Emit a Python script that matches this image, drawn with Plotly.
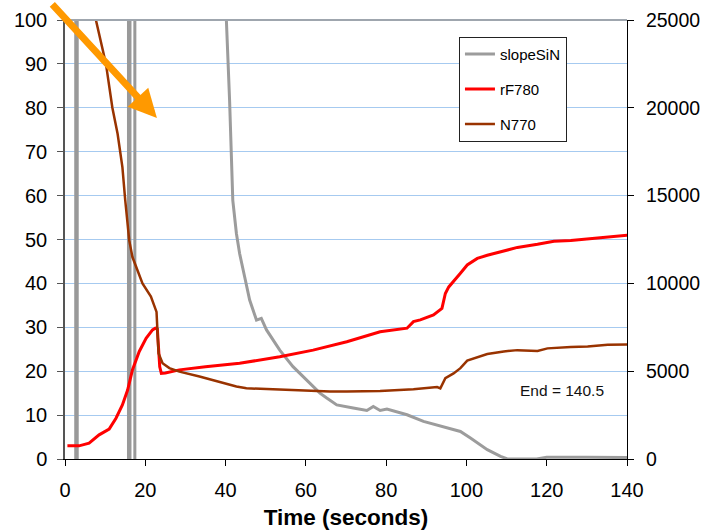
import plotly.graph_objects as go

# ---- data ----
marker_times = [2.86, 16.0, 17.4]

t_slope = [39.9, 40.2, 41.0, 41.4, 41.8, 42.7, 43.5, 44.75, 46.0, 47.7, 48.9, 50.2, 51.8,
           53.5, 56.8, 60.2, 63.5, 65.2, 67.7, 71.8, 75.2, 76.8, 78.5, 80.2, 85.2, 89.3,
           93.5, 98.5, 101.0, 105.2, 108.5, 110.2, 117.5, 120.0, 130.0, 140.2]
slopeSiN = [28000, 25000, 20420, 17570, 14730, 12840, 11700, 10380, 9050, 7910, 8010, 7350, 6780,
            6200, 5260, 4510, 3750, 3470, 3080, 2900, 2760, 2990, 2760, 2840, 2520, 2140,
            1900, 1570, 1190, 530, 150, 0, 0, 100, 100, 80]

t_rf = [0.6, 3.5, 6.0, 8.5, 11.0, 12.7, 14.3, 15.6, 16.8, 18.5, 20.2, 21.8, 22.5, 23.0, 23.6,
        24.0, 25.0, 28.5, 35.0, 43.5, 53.5, 61.8, 70.2, 78.5, 85.2, 86.8, 88.5, 91.8, 93.9,
        94.75, 95.6, 96.8, 98.5, 100.2, 102.7, 105.2, 109.3, 112.7, 117.7, 121.8, 126.0,
        130.2, 135.2, 140.2]
rF780 = [3.0, 3.0, 3.6, 5.5, 6.8, 9.3, 12.3, 15.7, 20.3, 24.5, 27.5, 29.4, 29.8, 29.6, 21.0,
         19.5, 19.6, 20.3, 21.0, 21.8, 23.3, 24.8, 26.7, 29.0, 29.8, 31.3, 31.7, 32.8, 34.3,
         37.7, 39.2, 40.4, 42.3, 44.2, 45.7, 46.4, 47.4, 48.2, 48.9, 49.6, 49.8,
         50.2, 50.6, 51.0]

t_n = [6.0, 7.7, 10.2, 11.8, 13.1, 14.3, 15.0, 16.0, 16.8, 17.7, 19.3, 21.4, 22.8, 23.3, 24.3,
       26.0, 28.5, 33.5, 37.7, 42.7, 45.2, 53.5, 61.8, 66.0, 70.2, 78.5, 86.8, 92.7, 93.5,
       94.75, 96.8, 98.5, 100.2, 102.7, 105.2, 109.3, 112.7, 117.7, 120.2, 126.0, 130.2,
       135.2, 140.2]
N770 = [108, 100, 90, 80, 74.1, 66.5, 59, 49.8, 46, 43.8, 40, 37, 33.5, 24.1, 21.8,
        20.7, 19.9, 18.8, 17.8, 16.5, 16.1, 15.8, 15.6, 15.4, 15.4, 15.5, 15.9, 16.4, 16.1,
        18.4, 19.5, 20.7, 22.4, 23.2, 23.9, 24.5, 24.8, 24.6, 25.2, 25.5, 25.6,
        26.0, 26.1]

x_ticks = list(range(0, 141, 20))
left_ticks = list(range(0, 101, 10))
right_ticks = list(range(0, 25001, 5000))

# ---- styles ----
FONT = "Liberation Sans, Arial, sans-serif"
marker_widths = [4.5, 4.5, 3]

fig = go.Figure()

for tm, w in zip(marker_times, marker_widths):
    fig.add_trace(go.Scatter(x=[tm, tm], y=[0, 100], mode="lines", yaxis="y",
                             line=dict(color="#999999", width=w), showlegend=False,
                             hoverinfo="skip"))

fig.add_trace(go.Scatter(x=t_slope, y=slopeSiN, name="slopeSiN", yaxis="y2", mode="lines",
                         line=dict(color="#9C9C9C", width=3), legendgroup="a"))
fig.add_trace(go.Scatter(x=t_rf, y=rF780, name="rF780", yaxis="y", mode="lines",
                         line=dict(color="#FF0000", width=3), legendgroup="b"))
fig.add_trace(go.Scatter(x=t_n, y=N770, name="N770", yaxis="y", mode="lines",
                         line=dict(color="#993300", width=2.5), legendgroup="c"))

fig.update_layout(
    width=704, height=531,
    margin=dict(l=65, r=77, t=20, b=72, autoexpand=False),
    paper_bgcolor="white", plot_bgcolor="white",
    font=dict(family=FONT, size=20, color="#000000"),
    xaxis=dict(range=[0, 140], tickvals=x_ticks, ticks="outside", ticklen=6,
               tickcolor="#000000", showline=True, linecolor="#000000", linewidth=1,
               showgrid=False, zeroline=False, ticklabelstandoff=7,
               title=dict(text="<b>Time (seconds)</b>", font=dict(size=22.5), standoff=9)),
    yaxis2=dict(range=[0, 25000], tickvals=right_ticks, tickformat="d", side="right",
                anchor="x", ticks="outside", ticklen=6, tickcolor="#000000", showline=True,
                linecolor="#000000", linewidth=1, showgrid=False, zeroline=False,
                ticklabelstandoff=8, tickfont=dict(size=19.5)),
    yaxis=dict(range=[0, 100], tickvals=left_ticks, side="left", overlaying="y2",
               ticks="outside", ticklen=6, tickcolor="#555555", showline=True,
               linecolor="#555555", linewidth=1.5, showgrid=True, gridcolor="#A6CAF0",
               gridwidth=1, zeroline=False, ticklabelstandoff=6),
    legend=dict(x=0.701, y=0.962, xanchor="left", yanchor="top", bgcolor="white",
                bordercolor="#222222", borderwidth=1, font=dict(size=15),
                tracegroupgap=12.5),
    showlegend=True,
    shapes=[dict(type="line", xref="paper", yref="paper", x0=0, x1=1, y0=1, y1=1,
                 line=dict(color="#9FA6AE", width=2))],
    annotations=[
        dict(x=22.9, y=77.7, xref="x", yref="y", ax=-106, ay=-115, text="",
             showarrow=True, arrowhead=2, arrowsize=0.8, arrowwidth=7,
             arrowcolor="#FF9900"),
        dict(x=123.7, y=15.6, xref="x", yref="y", text="End = 140.5", showarrow=False,
             font=dict(size=15.5, color="#111111")),
    ],
)

fig.write_html("out.html", config={"displayModeBar": False},
               post_script="document.body.style.margin='0';")
